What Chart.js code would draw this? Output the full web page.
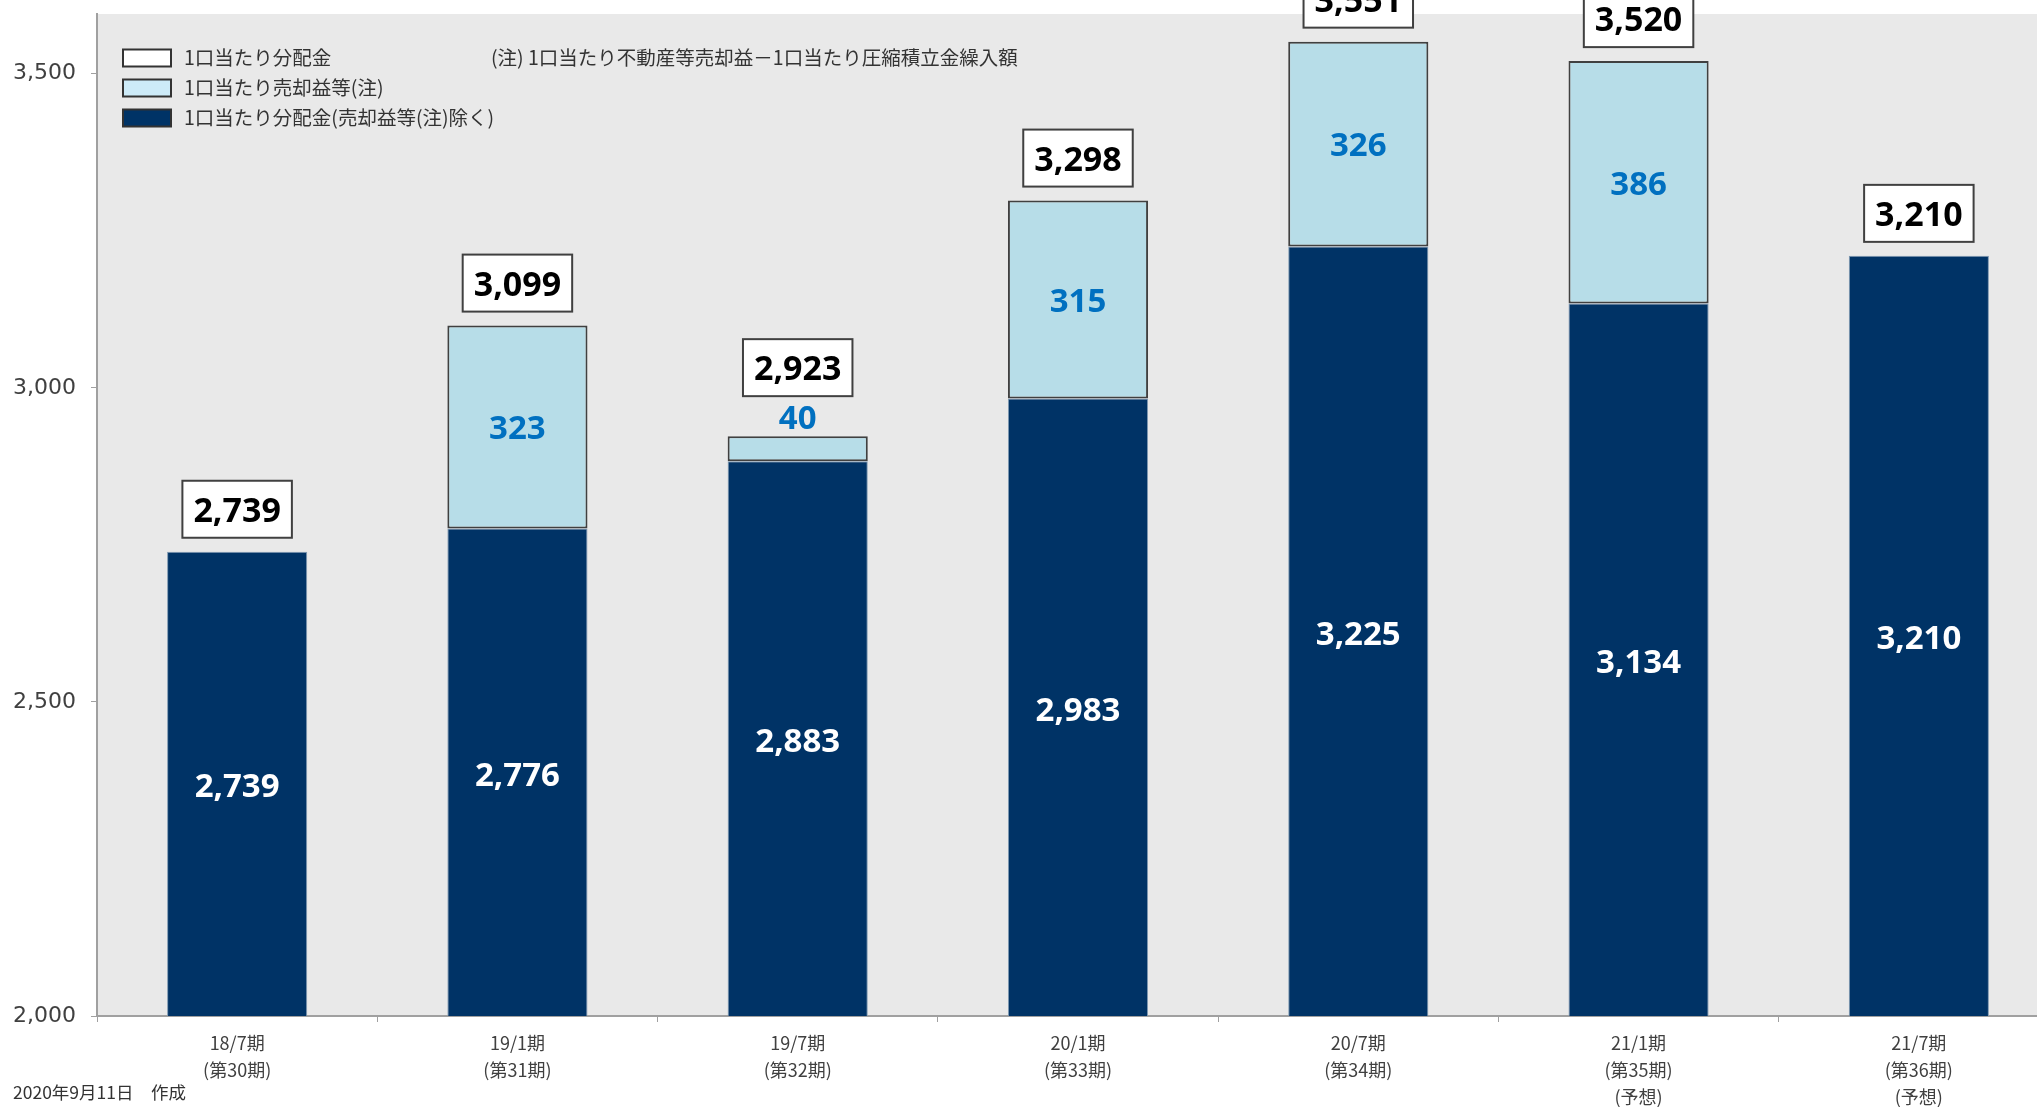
<!DOCTYPE html>
<html>
<head>
<meta charset="utf-8">
<script src="https://cdn.jsdelivr.net/npm/chart.js@4.4.0/dist/chart.umd.min.js"></script>
<style>
  html, body { margin: 0; padding: 0; background: #fff; overflow: hidden; }
  #wrap { width: 2037px; height: 1107px; overflow: hidden; }
</style>
</head>
<body>
<div id="wrap"><canvas id="myChart" width="2062" height="1107"></canvas></div>
<script>
// periods (x axis)
const periods = [
  ['18/7期', '(第30期)'],
  ['19/1期', '(第31期)'],
  ['19/7期', '(第32期)'],
  ['20/1期', '(第33期)'],
  ['20/7期', '(第34期)'],
  ['21/1期', '(第35期)', '(予想)'],
  ['21/7期', '(第36期)', '(予想)']
];
// 1口当たり分配金(売却益等(注)除く)
const baseValues = [2739, 2776, 2883, 2983, 3225, 3134, 3210];
// 1口当たり売却益等(注)
const gainValues = [null, 323, 40, 315, 326, 386, null];
// 1口当たり分配金 (total, shown in boxes)
const totalValues = [2739, 3099, 2923, 3298, 3551, 3520, 3210];
const yTicks = [2000, 2500, 3000, 3500];

const legendItems = [
  { text: '1口当たり分配金', fill: '#FFFFFF' },
  { text: '1口当たり売却益等(注)', fill: '#CDEBF8' },
  { text: '1口当たり分配金(売却益等(注)除く)', fill: '#003366' }
];
const noteText = '(注) 1口当たり不動産等売却益－1口当たり圧縮積立金繰入額';
const footerText = '2020年9月11日　作成';

const DARK = '#003366';
const LIGHT = '#B7DDE8';
const fmt = (n) => n.toLocaleString('en-US');

const decorations = {
  id: 'decorations',
  beforeDraw(chart) {
    const { ctx, chartArea: a } = chart;
    ctx.save();
    ctx.fillStyle = '#E9E9E9';
    ctx.fillRect(a.left, a.top, a.right - a.left, a.bottom - a.top);
    ctx.restore();
  },
  afterDatasetsDraw(chart) {
    const ctx = chart.ctx;
    const area = chart.chartArea;
    const baseMeta = chart.getDatasetMeta(0);
    const gainMeta = chart.getDatasetMeta(1);
    const yScale = chart.scales.y;
    ctx.save();
    ctx.textAlign = 'center';
    ctx.textBaseline = 'middle';
    ctx.font = 'bold 33px "Noto Sans"';

    baseMeta.data.forEach((bar, i) => {
      const bottom = Math.min(bar.base, area.bottom);
      ctx.fillStyle = '#FFFFFF';
      ctx.fillText(fmt(baseValues[i]), bar.x, (bar.y + bottom) / 2 + 4);
    });

    const raised = [];
    gainMeta.data.forEach((bar, i) => {
      if (!gainValues[i]) return;
      const h = bar.base - bar.y;
      let y = (bar.y + bar.base) / 2 + 3;
      if (h < 45) { y = bar.y - 17; raised[i] = true; }
      ctx.fillStyle = '#0070C0';
      ctx.fillText(fmt(gainValues[i]), bar.x, y);
    });

    ctx.font = 'bold 34px "Noto Sans"';
    totalValues.forEach((t, i) => {
      const x = baseMeta.data[i].x;
      const top = yScale.getPixelForValue(t);
      const txt = fmt(t);
      const w = ctx.measureText(txt).width + 22;
      const h = 57;
      const bottom = top - (raised[i] ? 40 : 14);
      ctx.fillStyle = '#FFFFFF';
      ctx.fillRect(x - w / 2, bottom - h, w, h);
      ctx.strokeStyle = '#404040';
      ctx.lineWidth = 2;
      ctx.strokeRect(x - w / 2, bottom - h, w, h);
      ctx.fillStyle = '#000000';
      ctx.fillText(txt, x, bottom - h / 2 + 3);
    });
    ctx.restore();
  },
  afterDraw(chart) {
    const ctx = chart.ctx;
    ctx.save();
    ctx.font = '19.5px "Noto Sans CJK JP"';
    ctx.textBaseline = 'middle';
    ctx.textAlign = 'left';
    legendItems.forEach((item, i) => {
      const y = 58 + i * 30;
      ctx.fillStyle = item.fill;
      ctx.fillRect(123, y - 8.5, 48, 17);
      ctx.strokeStyle = '#333333';
      ctx.lineWidth = 2;
      ctx.strokeRect(123, y - 8.5, 48, 17);
      ctx.fillStyle = '#333333';
      ctx.fillText(item.text, 184, y);
    });
    ctx.fillText(noteText, 491, 58);
    ctx.font = '17.5px "Noto Sans CJK JP"';
    ctx.fillText(footerText, 13, 1092);
    ctx.restore();
  }
};

const chart = new Chart(document.getElementById('myChart').getContext('2d'), {
  type: 'bar',
  data: {
    labels: periods,
    datasets: [
      {
        label: '1口当たり分配金(売却益等(注)除く)',
        data: baseValues,
        backgroundColor: DARK,
        borderColor: '#7f99b2',
        borderWidth: 1,
        barPercentage: 0.5,
        categoryPercentage: 1
      },
      {
        label: '1口当たり売却益等(注)',
        data: gainValues,
        backgroundColor: LIGHT,
        borderColor: '#404040',
        borderWidth: 2,
        borderSkipped: false,
        barPercentage: 0.5,
        categoryPercentage: 1
      }
    ]
  },
  options: {
    responsive: false,
    animation: false,
    devicePixelRatio: 1,
    layout: { padding: { top: 14, left: 0, right: 3, bottom: 0 } },
    plugins: {
      legend: { display: false },
      tooltip: { enabled: false }
    },
    scales: {
      x: {
        stacked: true,
        grid: { drawOnChartArea: false, tickLength: 6, color: '#A0A0A0', offset: true },
        border: { color: '#A0A0A0', width: 2 },
        ticks: {
          color: '#404040',
          padding: 8,
          maxRotation: 0,
          autoSkip: false,
          font: { family: '"Noto Sans CJK JP"', size: 18, lineHeight: '27px' }
        },
        afterFit(axis) {
          axis.height = 91;
          axis.paddingLeft = 0;
          axis.paddingRight = 0;
        }
      },
      y: {
        stacked: true,
        min: 2000,
        max: 3595,
        ticks: {
          stepSize: 500,
          color: '#404040',
          padding: 15,
          font: { family: '"DejaVu Sans"', size: 22 },
          callback: (v) => fmt(v)
        },
        afterBuildTicks(axis) {
          axis.ticks = yTicks.map((v) => ({ value: v }));
        },
        grid: { drawOnChartArea: false, tickLength: 6, color: '#A0A0A0' },
        border: { color: '#A0A0A0', width: 2 },
        afterFit(axis) {
          axis.width = 97;
          axis.paddingTop = 0;
          axis.paddingBottom = 0;
        }
      }
    }
  },
  plugins: [decorations]
});
</script>
</body>
</html>
